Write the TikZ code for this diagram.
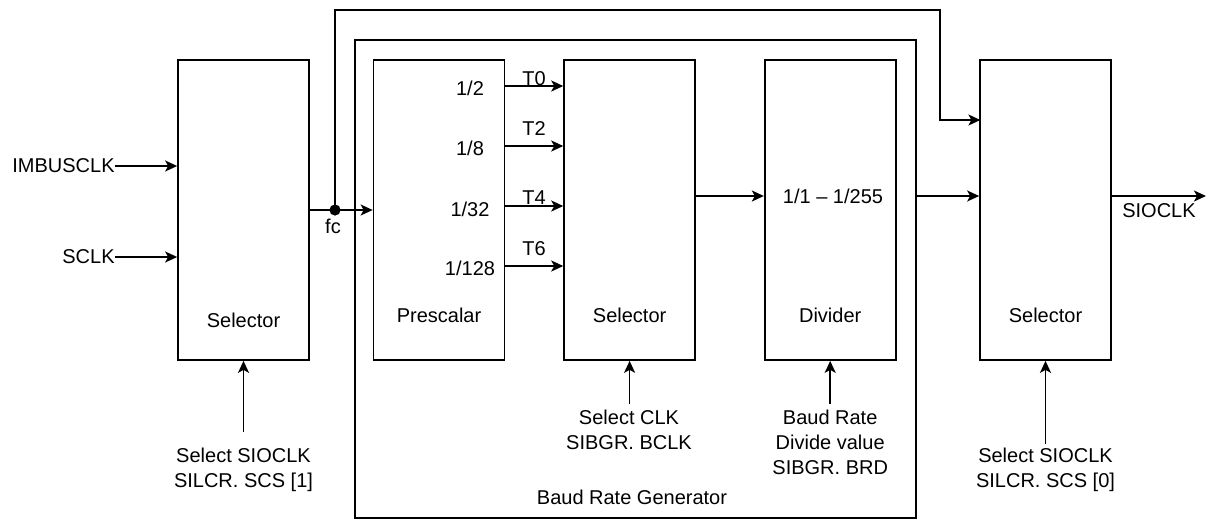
\documentclass[tikz,border=0pt]{standalone}
\usepackage{fontspec}
\setmainfont{Liberation Sans}
\usetikzlibrary{arrows.meta}
\tikzset{
  every node/.style={font=\fontsize{10}{12.5}\selectfont, inner sep=0pt},
  blk/.style={draw, line width=0.85pt, minimum width=65.5pt, minimum height=150pt},
  arr/.style={line width=0.85pt, -{Stealth[length=6pt,width=5.5pt,inset=1.5pt]}},
  ln/.style={line width=0.85pt},
  lbl/.style={align=center},
}
\begin{document}
\begin{tikzpicture}[x=0.5pt,y=-0.5pt]
\useasboundingbox (0,0) rectangle (1211,521);
% blocks
\node[blk] (sel1) at (243.5,210) {};
\node[blk] (pre) at (439,210) {};
\node[blk] (sel2) at (629.6,210) {};
\node[blk] (div) at (830.2,210) {};
\node[blk] (sel3) at (1045.5,210) {};
\node[draw, line width=0.85pt, minimum width=280.5pt, minimum height=239pt] (brg) at (635.5,279) {};
% block labels
\node (sel1t) at (243.5,320) {Selector};
\node (pret) at (439,315) {Prescalar};
\node (sel2t) at (629.6,315) {Selector};
\node (divt) at (830.2,315) {Divider};
\node (sel3t) at (1045.5,315) {Selector};
\node (brgt) at (632,497) {Baud Rate Generator};
% inputs
\node[anchor=east] (imb) at (115,166) {IMBUSCLK};
\node[anchor=east] (sclk) at (115,257) {SCLK};
\draw[arr] (imb.east) -- (imb.east -| sel1.west);
\draw[arr] (sclk.east) -- (sclk.east -| sel1.west);
% fc junction
\coordinate (j) at (335,210);
\coordinate (t1) at (940,10);
\coordinate (s3a) at (980.4,120);
\draw[arr] (sel1.east) -- (pre.west);
\draw[arr] (j) |- (t1) |- (s3a);
\fill (j) circle (2.8pt);
\node (fc) at (333,226) {fc};
% prescaler outputs
\node (p2) at (470,88) {1/2};
\node (p8) at (470,148) {1/8};
\node (p32) at (470,209) {1/32};
\node (p128) at (470,268) {1/128};
\draw[arr] (pre.east |- 0,86) -- (sel2.west |- 0,86);
\draw[arr] (pre.east |- 0,146) -- (sel2.west |- 0,146);
\draw[arr] (pre.east |- 0,206) -- (sel2.west |- 0,206);
\draw[arr] (pre.east |- 0,266) -- (sel2.west |- 0,266);
\node (t0) at (534,79) {T0};
\node (t2) at (534,129) {T2};
\node (t4) at (534,198) {T4};
\node (t6) at (534,249) {T6};
% main path
\draw[arr] (sel2.east |- 0,196) -- (div.west |- 0,196);
\node (divv) at (833,196) {1/1 -- 1/255};
\draw[arr] (brg.east |- 0,196) -- (sel3.west |- 0,196);
\coordinate (out) at (1206,196);
\draw[arr] (sel3.east |- 0,196) -- (out);
\node (sio) at (1159,211) {SIOCLK};
% control inputs
\node[lbl] (c1) at (243.5,469.5) {Select SIOCLK\\SILCR. SCS [1]};
\draw[arr] (243.5,432) -- (sel1.south);
\node[lbl] (c2) at (629,429.5) {Select CLK\\SIBGR. BCLK};
\draw[arr] (c2.north -| sel2.south) ++(0,-5) -- (sel2.south);
\node[lbl] (c3) at (830.2,442) {Baud Rate\\Divide value\\SIBGR. BRD};
\draw[arr] (c3.north -| div.south) ++(0,-5) -- (div.south);
\node[lbl] (c4) at (1045.5,469.5) {Select SIOCLK\\SILCR. SCS [0]};
\draw[arr] (c4.north -| sel3.south) ++(0,-3) -- (sel3.south);
\end{tikzpicture}
\end{document}
